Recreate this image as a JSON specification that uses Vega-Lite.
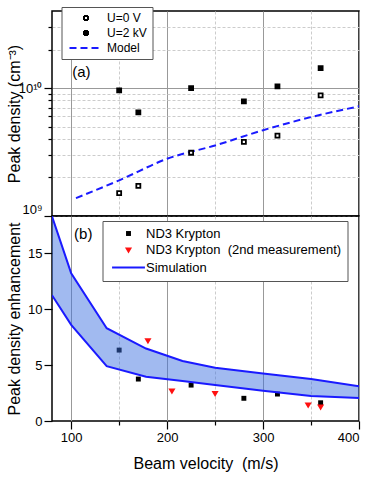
{
  "$schema": "https://vega.github.io/schema/vega-lite/v6.json",
  "padding": {"left": 5, "top": 5, "right": 12, "bottom": 0},
  "spacing": 0,
  "bounds": "flush",
  "resolve": {
    "scale": {"shape": "independent", "fill": "independent", "stroke": "independent", "strokeDash": "independent"},
    "legend": {"shape": "independent", "fill": "independent", "stroke": "independent", "strokeDash": "independent"}
  },
  "config": {
    "font": "Liberation Sans",
    "view": {"stroke": "black", "strokeWidth": 1.5},
    "axis": {"domain": false, "tickColor": "black", "tickWidth": 1.2, "labelColor": "black", "titleColor": "black", "titleFontWeight": "normal", "labelFont": "Liberation Sans", "titleFont": "Liberation Sans"},
    "legend": {"strokeColor": "#555", "fillColor": "white", "title": null, "labelFont": "Liberation Sans", "labelColor": "black", "labelLimit": 300, "symbolStrokeWidth": 2}
  },
  "vconcat": [
    {
      "width": 307,
      "height": 205,
      "layer": [
        {
          "data": {"values": [
            {"v": 105, "n": 1.38e9, "series": "Model"},
            {"v": 150, "n": 1.9e9, "series": "Model"},
            {"v": 200, "n": 2.8e9, "series": "Model"},
            {"v": 250, "n": 3.56e9, "series": "Model"},
            {"v": 300, "n": 4.68e9, "series": "Model"},
            {"v": 350, "n": 5.93e9, "series": "Model"},
            {"v": 400, "n": 7.2e9, "series": "Model"}
          ]},
          "mark": {"type": "line", "strokeWidth": 2, "interpolate": "monotone", "clip": true},
          "encoding": {
            "x": {"field": "v", "type": "quantitative", "scale": {"domain": [80, 400], "nice": false, "zero": false},
              "axis": {"values": [100, 150, 200, 250, 300, 350, 400], "labels": false, "title": null, "ticks": false,
                "grid": true,
                "gridColor": {"condition": {"test": "datum.value % 100 == 0", "value": "#999"}, "value": "#ccc"},
                "gridDash": {"condition": {"test": "datum.value % 100 == 0", "value": []}, "value": [3, 2]}}},
            "y": {"field": "n", "type": "quantitative", "scale": {"type": "log", "domain": [1e9, 4e10], "nice": false},
              "axis": {"values": [1e9, 2e9, 3e9, 4e9, 5e9, 6e9, 7e9, 8e9, 9e9, 1e10, 2e10, 3e10],
                "labelExpr": "datum.value == 1e10 ? '10¹⁰' : (datum.value == 1e9 ? '10⁹' : '')",
                "labelFontSize": 13, "labelPadding": 2, "labelFlush": true, "labelFlushOffset": 0,
                "tickSize": {"condition": {"test": "datum.value == 1e9 || datum.value == 1e10", "value": 8}, "value": 4},
                "grid": true,
                "gridColor": {"condition": {"test": "datum.value == 1e10", "value": "#999"}, "value": "#ccc"},
                "gridDash": {"condition": {"test": "datum.value == 1e10", "value": []}, "value": [3, 2]},
                "title": "Peak density (cm⁻³)", "titleFontSize": 16, "titleX": -38, "titleBaseline": "middle"}},
            "stroke": {"field": "series", "type": "nominal",
              "scale": {"domain": ["U=0 V", "U=2 kV", "Model"], "range": ["black", "black", "#1a1aff"]},
              "legend": {"orient": "none", "legendX": 9.5, "legendY": -4, "labelFontSize": 12, "padding": 5, "symbolSize": 16, "symbolOffset": 13.5, "labelOffset": 15, "rowPadding": 3}},
            "strokeDash": {"field": "series", "type": "nominal",
              "scale": {"domain": ["U=0 V", "U=2 kV", "Model"], "range": [[1, 0], [1, 0], [7, 4]]},
              "legend": {"orient": "none", "legendX": 9.5, "legendY": -4, "labelFontSize": 12, "padding": 5, "symbolSize": 16, "symbolOffset": 13.5, "labelOffset": 15, "rowPadding": 3}}
          }
        },
        {
          "data": {"values": [
            {"v": 150, "n": 1.51e9, "series": "U=0 V"},
            {"v": 170, "n": 1.72e9, "series": "U=0 V"},
            {"v": 225, "n": 3.12e9, "series": "U=0 V"},
            {"v": 280, "n": 3.79e9, "series": "U=0 V"},
            {"v": 315, "n": 4.24e9, "series": "U=0 V"},
            {"v": 360, "n": 8.77e9, "series": "U=0 V"},
            {"v": 150, "n": 9.6e9, "series": "U=2 kV"},
            {"v": 170, "n": 6.45e9, "series": "U=2 kV"},
            {"v": 225, "n": 1.0e10, "series": "U=2 kV"},
            {"v": 280, "n": 7.87e9, "series": "U=2 kV"},
            {"v": 315, "n": 1.03e10, "series": "U=2 kV"},
            {"v": 360, "n": 1.43e10, "series": "U=2 kV"}
          ]},
          "mark": {"type": "point", "size": 16, "filled": true, "strokeWidth": 1.8, "opacity": 1},
          "encoding": {
            "x": {"field": "v", "type": "quantitative"},
            "y": {"field": "n", "type": "quantitative"},
            "shape": {"field": "series", "type": "nominal",
              "scale": {"domain": ["U=0 V", "U=2 kV", "Model"], "range": ["square", "square", "M-8.25,0H8.25"]},
              "legend": {"orient": "none", "legendX": 9.5, "legendY": -4, "labelFontSize": 12, "padding": 5, "symbolSize": 16, "symbolOffset": 13.5, "labelOffset": 15, "rowPadding": 3}},
            "fill": {"field": "series", "type": "nominal",
              "scale": {"domain": ["U=0 V", "U=2 kV", "Model"], "range": ["white", "black", "transparent"]},
              "legend": {"orient": "none", "legendX": 9.5, "legendY": -4, "labelFontSize": 12, "padding": 5, "symbolSize": 16, "symbolOffset": 13.5, "labelOffset": 15, "rowPadding": 3}},
            "stroke": {"field": "series", "type": "nominal",
              "scale": {"domain": ["U=0 V", "U=2 kV", "Model"], "range": ["black", "black", "#1a1aff"]},
              "legend": {"orient": "none", "legendX": 9.5, "legendY": -4, "labelFontSize": 12, "padding": 5, "symbolSize": 16, "symbolOffset": 13.5, "labelOffset": 15, "rowPadding": 3}}
          }
        },
        {
          "data": {"values": [{"label": "(a)"}]},
          "mark": {"type": "text", "align": "left", "baseline": "middle", "fontSize": 15, "font": "Liberation Sans", "color": "black"},
          "encoding": {
            "x": {"datum": 101, "type": "quantitative"},
            "y": {"datum": 1.33e10, "type": "quantitative"},
            "text": {"field": "label"}
          }
        }
      ]
    },
    {
      "width": 307,
      "height": 205,
      "layer": [
        {
          "data": {"values": [
            {"v": 150, "e": 6.34, "series": "ND3 Krypton"},
            {"v": 170, "e": 3.75, "series": "ND3 Krypton"},
            {"v": 225, "e": 3.21, "series": "ND3 Krypton"},
            {"v": 280, "e": 2.03, "series": "ND3 Krypton"},
            {"v": 315, "e": 2.41, "series": "ND3 Krypton"},
            {"v": 360, "e": 1.63, "series": "ND3 Krypton"},
            {"v": 180, "e": 7.17, "series": "ND3 Krypton\u00a0 (2nd measurement)"},
            {"v": 205, "e": 2.68, "series": "ND3 Krypton\u00a0 (2nd measurement)"},
            {"v": 250, "e": 2.47, "series": "ND3 Krypton\u00a0 (2nd measurement)"},
            {"v": 347, "e": 1.43, "series": "ND3 Krypton\u00a0 (2nd measurement)"},
            {"v": 360, "e": 1.25, "series": "ND3 Krypton\u00a0 (2nd measurement)"}
          ]},
          "mark": {"type": "point", "filled": true, "opacity": 1, "size": 30, "strokeWidth": 0},
          "encoding": {
            "x": {"field": "v", "type": "quantitative", "scale": {"domain": [80, 400], "nice": false, "zero": false},
              "axis": {"values": [100, 150, 200, 250, 300, 350, 400],
                "labelExpr": "datum.value % 100 == 0 ? datum.label : ''", "labelFontSize": 13, "labelPadding": 2,
                "tickSize": {"condition": {"test": "datum.value % 100 == 0", "value": 8}, "value": 4},
                "grid": true,
                "gridColor": {"condition": {"test": "datum.value % 100 == 0", "value": "#999"}, "value": "#ccc"},
                "gridDash": {"condition": {"test": "datum.value % 100 == 0", "value": []}, "value": [3, 2]},
                "title": "Beam velocity\u00a0 (m/s)", "titleFontSize": 16, "titlePadding": 11}},
            "y": {"field": "e", "type": "quantitative", "scale": {"domain": [0, 18.33], "nice": false},
              "axis": {"values": [0, 2.5, 5, 7.5, 10, 12.5, 15, 17.5],
                "labelExpr": "datum.value % 5 == 0 ? datum.label : ''", "labelFontSize": 13, "labelPadding": 2,
                "tickSize": {"condition": {"test": "datum.value % 5 == 0", "value": 8}, "value": 4},
                "grid": false,
                "title": "Peak density enhancement", "titleFontSize": 16, "titleX": -38, "titleBaseline": "middle"}},
            "shape": {"field": "series", "type": "nominal",
              "scale": {"domain": ["ND3 Krypton", "ND3 Krypton\u00a0 (2nd measurement)", "Simulation"], "range": ["M-0.9,-0.9H0.9V0.9H-0.9Z", "M-1.3,-0.9L1.3,-0.9L0,1.3Z", "M-6,0H6"]},
              "legend": {"orient": "none", "legendX": 50.5, "legendY": 5, "labelFontSize": 13, "padding": 6, "symbolSize": 30, "symbolOffset": 13.5, "labelOffset": 11, "rowPadding": 2.5}},
            "fill": {"field": "series", "type": "nominal",
              "scale": {"domain": ["ND3 Krypton", "ND3 Krypton\u00a0 (2nd measurement)", "Simulation"], "range": ["black", "#ff1010", "transparent"]},
              "legend": {"orient": "none", "legendX": 50.5, "legendY": 5, "labelFontSize": 13, "padding": 6, "symbolSize": 30, "symbolOffset": 13.5, "labelOffset": 11, "rowPadding": 2.5}}
          }
        },
        {
          "data": {"values": [
            {"v": 80, "lo": 11.25, "hi": 18.3, "series": "Simulation"},
            {"v": 100, "lo": 8.6, "hi": 13.2, "series": "Simulation"},
            {"v": 137, "lo": 4.9, "hi": 8.3, "series": "Simulation"},
            {"v": 178, "lo": 3.96, "hi": 6.48, "series": "Simulation"},
            {"v": 216, "lo": 3.57, "hi": 5.36, "series": "Simulation"},
            {"v": 250, "lo": 3.21, "hi": 4.76, "series": "Simulation"},
            {"v": 300, "lo": 2.7, "hi": 4.25, "series": "Simulation"},
            {"v": 350, "lo": 2.23, "hi": 3.75, "series": "Simulation"},
            {"v": 400, "lo": 2.05, "hi": 3.1, "series": "Simulation"}
          ]},
          "layer": [
            {
              "mark": {"type": "area", "color": "#3a6ee0", "fillOpacity": 0.48, "clip": true},
              "encoding": {
                "x": {"field": "v", "type": "quantitative"},
                "y": {"field": "lo", "type": "quantitative"},
                "y2": {"field": "hi"}
              }
            },
            {
              "transform": [{"fold": ["lo", "hi"], "as": ["edge", "val"]}],
              "mark": {"type": "line", "strokeWidth": 2, "clip": true},
              "encoding": {
                "x": {"field": "v", "type": "quantitative"},
                "y": {"field": "val", "type": "quantitative"},
                "detail": {"field": "edge"},
                "stroke": {"field": "series", "type": "nominal",
                  "scale": {"domain": ["ND3 Krypton", "ND3 Krypton\u00a0 (2nd measurement)", "Simulation"], "range": ["transparent", "transparent", "#1a1aff"]},
                  "legend": {"orient": "none", "legendX": 50.5, "legendY": 5, "labelFontSize": 13, "padding": 6, "symbolSize": 30, "symbolOffset": 13.5, "labelOffset": 11, "rowPadding": 2.5}}
              }
            }
          ]
        },
        {
          "data": {"values": [{"label": "(b)"}]},
          "mark": {"type": "text", "align": "left", "baseline": "middle", "fontSize": 15, "font": "Liberation Sans", "color": "black"},
          "encoding": {
            "x": {"datum": 103, "type": "quantitative"},
            "y": {"datum": 16.7, "type": "quantitative"},
            "text": {"field": "label"}
          }
        }
      ]
    }
  ]
}
